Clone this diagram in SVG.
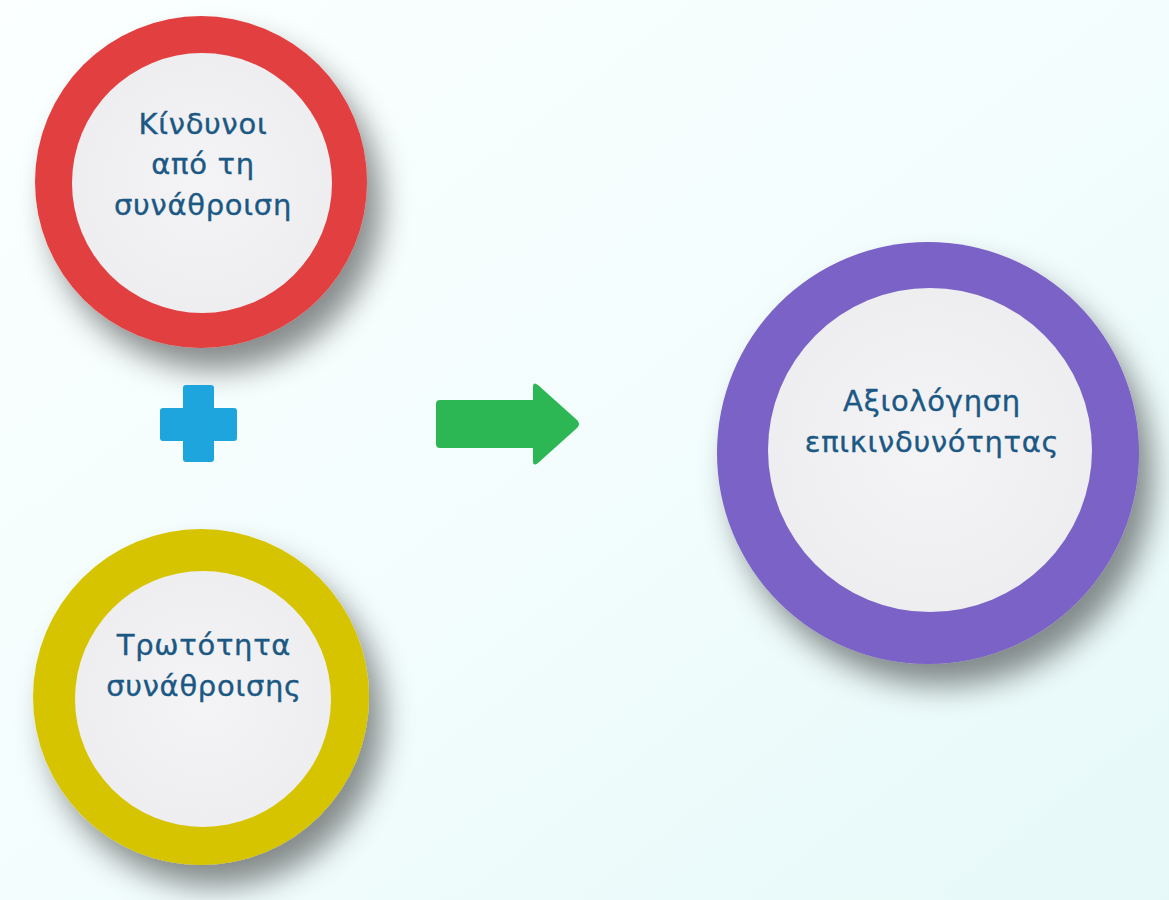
<svg xmlns="http://www.w3.org/2000/svg" width="1169" height="900" viewBox="0 0 1169 900">
  <defs>
    <linearGradient id="bg" x1="0" y1="0" x2="1" y2="1">
      <stop offset="0" stop-color="#fbffff"/>
      <stop offset="0.5" stop-color="#f3fdfd"/>
      <stop offset="1" stop-color="#e6f9f8"/>
    </linearGradient>
    <filter id="shadow" x="-30%" y="-30%" width="170%" height="170%">
      <feDropShadow dx="14" dy="22" stdDeviation="15" flood-color="#000" flood-opacity="0.45"/>
    </filter>
    <radialGradient id="inner" cx="0.5" cy="0.5" r="0.5">
      <stop offset="0" stop-color="#f4f4f6"/>
      <stop offset="1" stop-color="#eeeef1"/>
    </radialGradient>
  </defs>
  <style>
    .lbl { font-family: "DejaVu Sans", "Liberation Sans", sans-serif; font-size: 29px; letter-spacing: 0.7px; fill: #1b5883; stroke: #1b5883; stroke-width: 0.35px; text-anchor: middle; }
    .inner { fill: url(#inner); }
  </style>
  <rect x="0" y="0" width="1169" height="900" fill="url(#bg)"/>

  <g id="node-kindynoi">
    <circle cx="201" cy="182" r="166" fill="#e2403f" filter="url(#shadow)"/>
    <circle class="inner" cx="202" cy="183" r="130"/>
    <text class="lbl" x="203" y="134">Κίνδυνοι</text>
    <text class="lbl" x="203" y="174">από τη</text>
    <text class="lbl" x="203" y="215">συνάθροιση</text>
  </g>

  <g id="node-trototita">
    <circle cx="201" cy="697" r="168" fill="#d7c400" filter="url(#shadow)"/>
    <circle class="inner" cx="203" cy="699" r="128"/>
    <text class="lbl" x="204" y="655">Τρωτότητα</text>
    <text class="lbl" x="204" y="696">συνάθροισης</text>
  </g>

  <g id="node-axiologisi">
    <circle cx="928" cy="453" r="211" fill="#7a62c6" filter="url(#shadow)"/>
    <circle class="inner" cx="930" cy="450" r="162"/>
    <text class="lbl" x="932" y="411">Αξιολόγηση</text>
    <text class="lbl" x="932" y="452">επικινδυνότητας</text>
  </g>

  <g id="plus">
    <path d="M186 385 H211 Q214 385 214 388 V408 H234 Q237 408 237 411 V438 Q237 441 234 441 H214 V459 Q214 462 211 462 H186 Q183 462 183 459 V441 H163 Q160 441 160 438 V411 Q160 408 163 408 H183 V388 Q183 385 186 385 Z" fill="#1ea5dd"/>
  </g>

  <g id="connectors">
    <path d="M440 400 H533 V387 Q533 381 538 385 L577 420 Q581 424 577 428 L538 463 Q533 467 533 461 V448 H440 Q436 448 436 444 V404 Q436 400 440 400 Z" fill="#2cb654"/>
  </g>
</svg>
